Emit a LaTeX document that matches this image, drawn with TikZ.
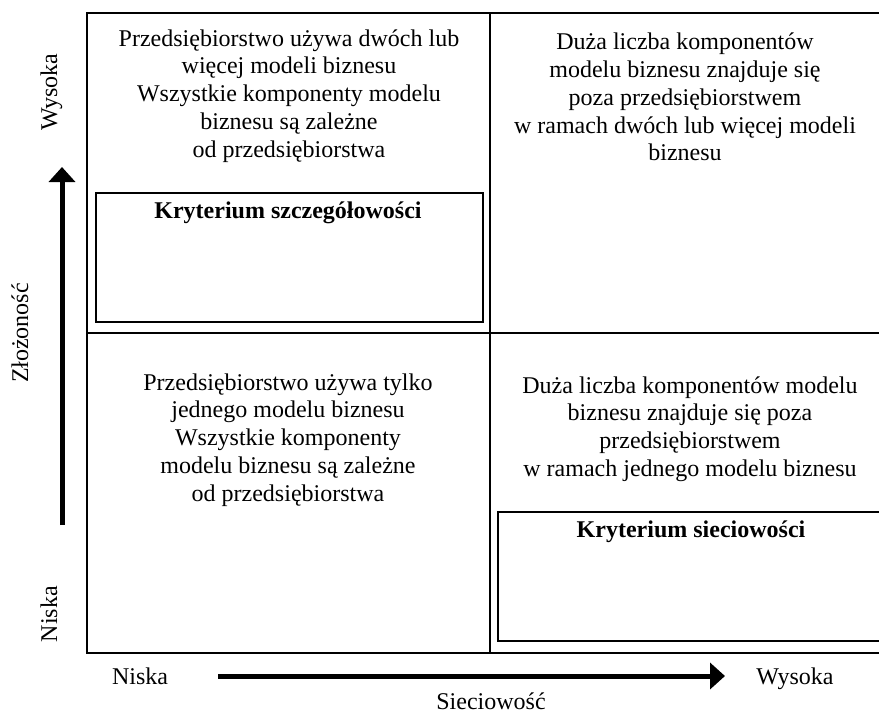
\documentclass[tikz,border=0pt]{standalone}
\usepackage{fontspec}
\setmainfont{Liberation Serif}
\usetikzlibrary{arrows.meta}
\tikzset{
  frameline/.style={line width=1.6pt, black},
  critbox/.style={draw, line width=1.8pt, inner sep=0pt, anchor=north west},
  quadtext/.style={align=center, font=\fontsize{24}{27.8}\selectfont, inner sep=0pt},
  crittext/.style={font=\fontsize{24}{27.8}\selectfont\bfseries, inner sep=0pt, anchor=base},
  axislabel/.style={font=\fontsize{24}{27.8}\selectfont, inner sep=0pt, anchor=base},
  axisarrow/.style={line width=5pt, -{Triangle[length=15pt,width=26pt]}}
}
\begin{document}
\begin{tikzpicture}[x=1pt,y=-1pt]
\useasboundingbox (0,0) rectangle (879,713);
\clip (0,0) rectangle (879,713);
% frame
\draw[frameline] (885,13) -- (87,13) -- (87,653) -- (885,653);
\draw[frameline] (490,13) -- (490,653);
\draw[frameline] (87,333) -- (885,333);
% criterion boxes
\node[critbox, minimum width=387pt, minimum height=129pt] (boxA) at (95,192) {};
\node[critbox, minimum width=390pt, minimum height=129pt] (boxB) at (497,511) {};
\node[crittext] (critA) at (288,218) {Kryterium szczegółowości};
\node[crittext] (critB) at (691,537) {Kryterium sieciowości};
% quadrant texts
\node[quadtext] (q1) at (289,96) {Przedsiębiorstwo używa dwóch lub\\więcej modeli biznesu\\Wszystkie komponenty modelu\\biznesu są zależne\\od przedsiębiorstwa};
\node[quadtext] (q2) at (685,97) {Duża liczba komponentów\\modelu biznesu znajduje się\\poza przedsiębiorstwem\\w ramach dwóch lub więcej modeli\\biznesu};
\node[quadtext] (q3) at (288,440) {Przedsiębiorstwo używa tylko\\jednego modelu biznesu\\Wszystkie komponenty\\modelu biznesu są zależne\\od przedsiębiorstwa};
\node[quadtext] (q4) at (690,429) {Duża liczba komponentów modelu\\biznesu znajduje się poza\\przedsiębiorstwem\\w ramach jednego modelu biznesu};
% vertical axis
\node[axislabel, rotate=90] (yhigh) at (57,92) {Wysoka};
\node[axislabel, rotate=90] (ytitle) at (28,333) {Złożoność};
\node[axislabel, rotate=90] (ylow) at (57,614) {Niska};
\coordinate (ystart) at (62,525);
\coordinate (yend) at (62,167);
\draw[axisarrow] (ystart) -- (yend);
% horizontal axis
\node[axislabel] (xlow) at (140,684) {Niska};
\node[axislabel] (xhigh) at (795,684) {Wysoka};
\node[axislabel] (xtitle) at (491,709) {Sieciowość};
\coordinate (xstart) at (218,676);
\coordinate (xend) at (725,676);
\draw[axisarrow] (xstart) -- (xend);
\end{tikzpicture}
\end{document}
